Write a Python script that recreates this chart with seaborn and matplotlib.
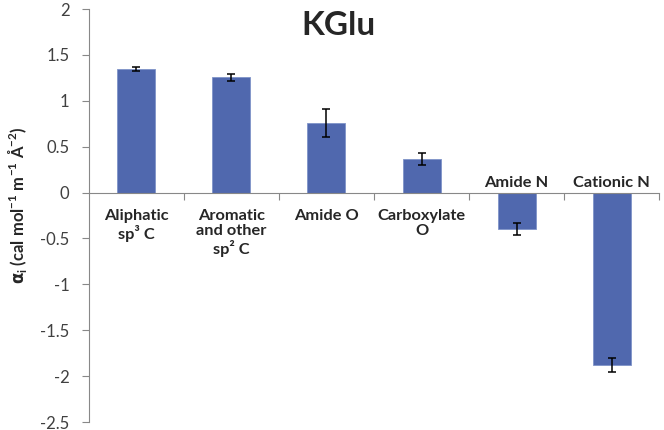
import numpy as np
import pandas as pd
import seaborn as sns
import matplotlib.pyplot as plt
from matplotlib.ticker import FixedLocator, FuncFormatter

# atom types and their alpha values (KGlu)
categories = ['Aliphatic\nsp\u00b3 C', 'Aromatic\nand other\nsp\u00b2 C', 'Amide O',
              'Carboxylate\nO', 'Amide N', 'Cationic N']
alpha_values = [1.345, 1.255, 0.76, 0.367, -0.395, -1.875]
alpha_errors = [0.02, 0.04, 0.155, 0.068, 0.065, 0.075]
y_ticks = [-2.5, -2, -1.5, -1, -0.5, 0, 0.5, 1, 1.5, 2]

sns.set_style('white')
plt.rcParams['font.family'] = ['Lato', 'DejaVu Sans']
plt.rcParams['axes.unicode_minus'] = False
plt.rcParams['mathtext.fontset'] = 'custom'
plt.rcParams['mathtext.rm'] = 'Lato:bold'
plt.rcParams['mathtext.it'] = 'DejaVu Sans:bold'
plt.rcParams['mathtext.bf'] = 'Lato:bold'

df = pd.DataFrame({'atom': categories, 'alpha': alpha_values})

fig = plt.figure(figsize=(6.64, 4.30), dpi=100)
ax = fig.add_axes([0.134, 0.0186, 0.8585, 0.9604])

sns.barplot(data=df, x='atom', y='alpha', color='#5068ae', width=0.4,
            saturation=1, edgecolor='#7f93c8', linewidth=0.6, ax=ax)
ax.errorbar(np.arange(len(categories)), alpha_values, yerr=alpha_errors,
            fmt='none', ecolor='black', elinewidth=1.1, capsize=3, capthick=1.1)

ax.set_xlim(-0.5, len(categories) - 0.5)
ax.set_ylim(-2.5, 2)
ax.yaxis.set_major_locator(FixedLocator(y_ticks))
ax.yaxis.set_major_formatter(FuncFormatter(lambda v, p: '%g' % v))
ax.tick_params(axis='y', direction='out', length=5, width=0.8, color='#888888',
               labelsize=12, labelcolor='#404040', pad=9, left=True)

# category boundaries as x ticks, labels drawn next to the zero line
ax.set_xticks(np.arange(len(categories)) + 0.5)
ax.set_xticklabels([])
ax.tick_params(axis='x', direction='out', length=5, width=0.8, color='#888888', bottom=True)
for i, (lab, v) in enumerate(zip(categories, alpha_values)):
    if v >= 0:
        ax.annotate(lab, xy=(i, 0), xytext=(0, -12), textcoords='offset points',
                    ha='center', va='top', fontsize=11.8, fontweight='bold',
                    linespacing=1.1)
    else:
        ax.annotate(lab, xy=(i, 0), xytext=(0, 2), textcoords='offset points',
                    ha='center', va='bottom', fontsize=11.8, fontweight='bold')

for s in ['top', 'right']:
    ax.spines[s].set_visible(False)
ax.spines['left'].set_color('#888888')
ax.spines['left'].set_linewidth(0.8)
ax.spines['bottom'].set_position(('data', 0))
ax.spines['bottom'].set_color('#888888')
ax.spines['bottom'].set_linewidth(0.8)

ax.set_xlabel('')
ax.set_ylabel(r'$\alpha_\mathrm{i}$ (cal mol$^{\mathrm{-1}}$ m$^{\mathrm{-1}}$ Å$^{\mathrm{-2}}$)',
              fontsize=12, fontweight='bold')
ax.yaxis.set_label_coords(-0.106, 0.525)

fig.text(0.509, 0.94, 'KGlu', ha='center', va='center', fontsize=24, fontweight='bold')

fig.savefig('out.png', dpi=100)
